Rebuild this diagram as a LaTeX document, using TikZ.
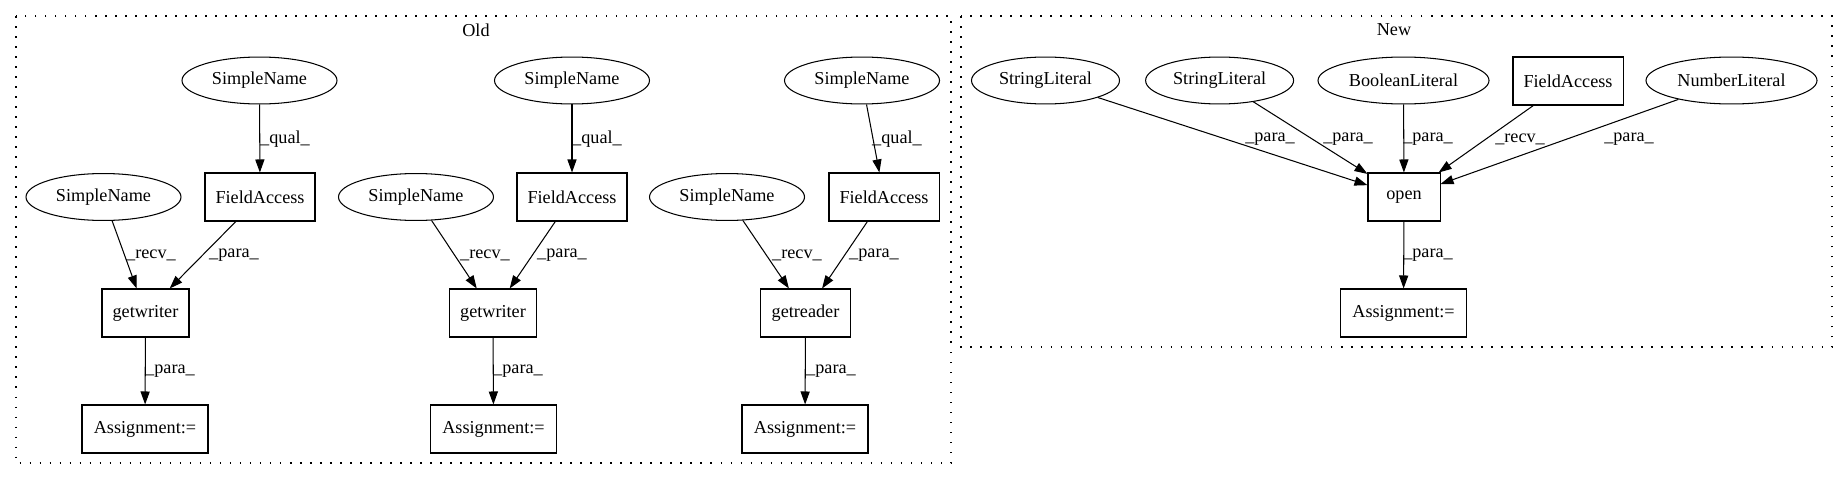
\documentclass[tikz,border=0pt]{standalone}
\usepackage{fontspec}
\setmainfont{Liberation Serif}
\usetikzlibrary{shapes.geometric,arrows.meta}
\begin{document}
\begin{tikzpicture}[x=0.769pt,y=-0.769pt,
  every node/.style={font=\fontsize{14pt}{16pt}\selectfont, inner sep=0pt},
  ell/.style={draw, ellipse, line width=0.8pt, minimum height=36.1pt},
  box/.style={draw, rectangle, line width=0.8pt, minimum height=36.9pt},
  arr/.style={draw, line width=0.8pt, -{Triangle[length=10pt,width=7pt]}},
  cluster/.style={draw, line width=1.2pt, dash pattern=on 1.2pt off 6.5pt},
  lab/.style={}]
\useasboundingbox (0,0) rectangle (1844,480);
% clusters
\draw[cluster] (16,16) rectangle (951,463);
\draw[cluster] (961,16) rectangle (1832,347);
\node (tOld) at (476,30) {Old};
\node (tNew) at (1394,30) {New};
% Old group 1
\node[ell, minimum width=119.2pt] (sq1) at (259.5,80.5) {SimpleName};
\node[box, minimum width=84.6pt] (fa1) at (260,197) {FieldAccess};
\node[ell, minimum width=119.2pt] (sr1) at (103.5,197) {SimpleName};
\node[box, minimum width=66.9pt] (gw1) at (145.5,313) {getwriter};
\node[box, minimum width=96.9pt] (as1) at (145,429) {Assignment:=};
% Old group 2
\node[ell, minimum width=119.2pt] (sq2) at (572,80.5) {SimpleName};
\node[box, minimum width=84.6pt] (fa2) at (572,197) {FieldAccess};
\node[ell, minimum width=119.2pt] (sr2) at (416,197) {SimpleName};
\node[box, minimum width=66.9pt] (gw2) at (493,313) {getwriter};
\node[box, minimum width=96.9pt] (as2) at (493.5,429) {Assignment:=};
% Old group 3
\node[ell, minimum width=119.2pt] (sq3) at (862,80.5) {SimpleName};
\node[box, minimum width=84.6pt] (fa3) at (884,197) {FieldAccess};
\node[ell, minimum width=119.2pt] (sr3) at (727,197) {SimpleName};
\node[box, minimum width=68.5pt] (gr3) at (805.5,313) {getreader};
\node[box, minimum width=96.9pt] (as3) at (805,429) {Assignment:=};
% New
\node[ell, minimum width=113.8pt] (sl1) at (1045.5,80.5) {StringLiteral};
\node[ell, minimum width=113.8pt] (sl2) at (1219.6,80.5) {StringLiteral};
\node[ell, minimum width=131.5pt] (bl) at (1403.5,80.5) {BooleanLiteral};
\node[box, minimum width=84.6pt] (fan) at (1568,81) {FieldAccess};
\node[ell, minimum width=131.5pt] (nl) at (1731.5,80.5) {NumberLiteral};
\node[box, minimum width=55.4pt] (op) at (1404,197) {open};
\node[box, minimum width=96.9pt] (asn) at (1403.5,313) {Assignment:=};
% edges group 1
\draw[arr] (sq1) -- (fa1);
\draw[arr] (sr1) -- (gw1);
\draw[arr] (fa1) -- (gw1);
\draw[arr] (gw1) -- (as1);
\node[lab] (l1a) at (285,139) {\_qual\_};
\node[lab] (l1b) at (151,255) {\_recv\_};
\node[lab] (l1c) at (234,255) {\_para\_};
\node[lab] (l1d) at (170,371) {\_para\_};
% edges group 2
\draw[arr] (sq2) -- (fa2);
\draw[arr] (sr2) -- (gw2);
\draw[arr] (fa2) -- (gw2);
\draw[arr] (gw2) -- (as2);
\node[lab] (l2a) at (597,139) {\_qual\_};
\node[lab] (l2b) at (485,255) {\_recv\_};
\node[lab] (l2c) at (562,255) {\_para\_};
\node[lab] (l2d) at (518,371) {\_para\_};
% edges group 3
\draw[arr] (sq3) -- (fa3);
\draw[arr] (sr3) -- (gr3);
\draw[arr] (fa3) -- (gr3);
\draw[arr] (gr3) -- (as3);
\node[lab] (l3a) at (897,139) {\_qual\_};
\node[lab] (l3b) at (797,255) {\_recv\_};
\node[lab] (l3c) at (874,255) {\_para\_};
\node[lab] (l3d) at (831,371) {\_para\_};
% edges new
\draw[arr] (sl1) -- (op);
\draw[arr] (sl2) -- (op);
\draw[arr] (bl) -- (op);
\draw[arr] (fan) -- (op);
\draw[arr] (nl) -- (op);
\draw[arr] (op) -- (asn);
\node[lab] (ln1) at (1270,139) {\_para\_};
\node[lab] (ln2) at (1348,139) {\_para\_};
\node[lab] (ln3) at (1428,139) {\_para\_};
\node[lab] (ln4) at (1520,139) {\_recv\_};
\node[lab] (ln5) at (1629,139) {\_para\_};
\node[lab] (ln6) at (1428,255) {\_para\_};
\end{tikzpicture}
\end{document}
